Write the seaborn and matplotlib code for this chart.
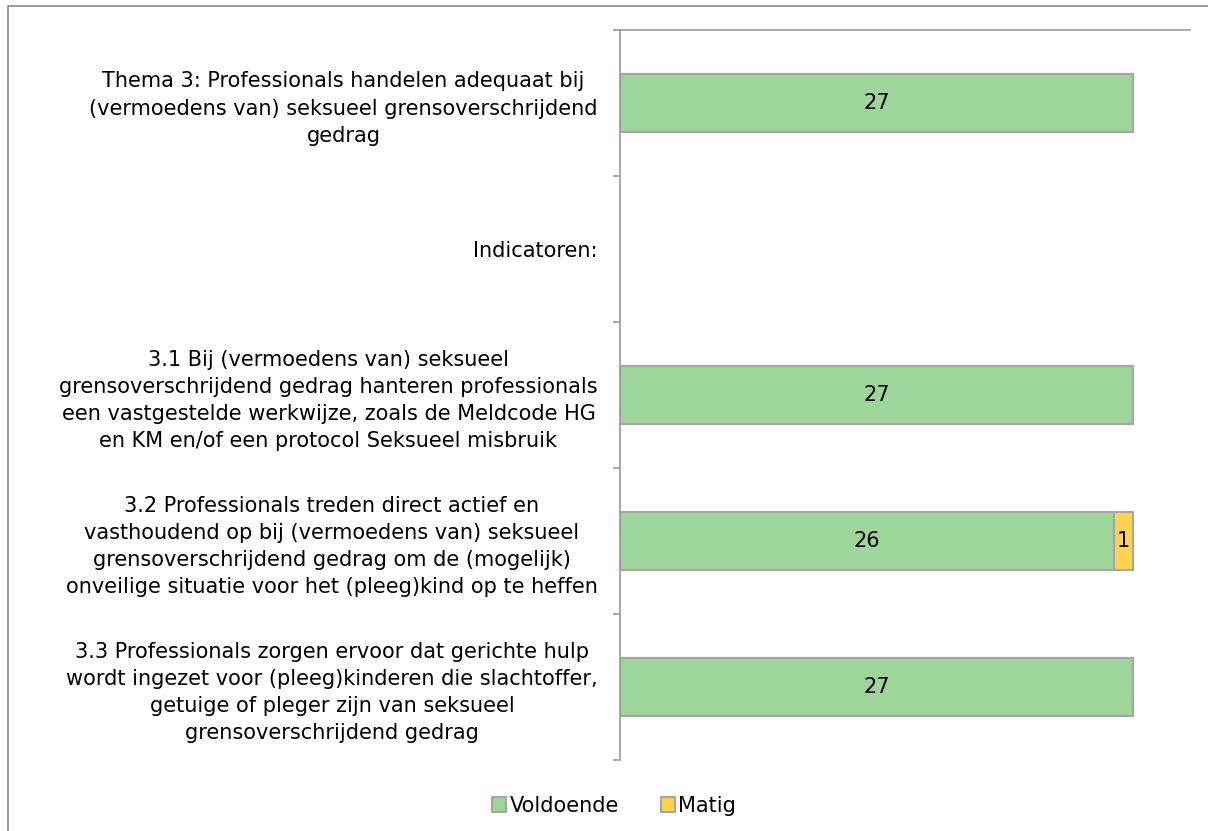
import matplotlib
matplotlib.use('Agg')
import matplotlib.pyplot as plt
import seaborn as sns
import pandas as pd
import numpy as np
from matplotlib.patches import Patch, Rectangle

# chart data
categories = [
    'Thema 3: Professionals handelen adequaat bij\n(vermoedens van) seksueel grensoverschrijdend\ngedrag',
    'Indicatoren:',
    '3.1 Bij (vermoedens van) seksueel\ngrensoverschrijdend gedrag hanteren professionals\neen vastgestelde werkwijze, zoals de Meldcode HG\nen KM en/of een protocol Seksueel misbruik',
    '3.2 Professionals treden direct actief en\nvasthoudend op bij (vermoedens van) seksueel\ngrensoverschrijdend gedrag om de (mogelijk)\nonveilige situatie voor het (pleeg)kind op te heffen',
    '3.3 Professionals zorgen ervoor dat gerichte hulp\nwordt ingezet voor (pleeg)kinderen die slachtoffer,\ngetuige of pleger zijn van seksueel\ngrensoverschrijdend gedrag',
]
voldoende = [27, np.nan, 27, 26, 27]
matig = [0, np.nan, 0, 1, 0]
series = ['Voldoende', 'Matig']

green = '#9ed59a'
yellow = '#ffd34f'
edge = '#a6a6a6'
fs = 15

df = pd.DataFrame({'cat': categories, 'Voldoende': voldoende, 'Matig': matig})
df['total'] = df['Voldoende'] + df['Matig']

sns.set_style('white')
plt.rcParams['font.family'] = ['DejaVu Sans']
plt.rcParams['text.color'] = 'black'
plt.rcParams['ytick.labelcolor'] = 'black'

fig = plt.figure(figsize=(12.08, 8.31), dpi=100)
ax = fig.add_axes([620/1208, 1-760/831, 570/1208, 730/831])

# stacked bars: total (Matig colour) under Voldoende
sns.barplot(data=df, y='cat', x='total', order=categories, orient='h',
            color=yellow, edgecolor=edge, linewidth=1.5, width=0.4,
            saturation=1, ax=ax, errorbar=None)
sns.barplot(data=df, y='cat', x='Voldoende', order=categories, orient='h',
            color=green, edgecolor=edge, linewidth=1.5, width=0.4,
            saturation=1, ax=ax, errorbar=None)

# value labels centred in each segment
for i, (v, m) in enumerate(zip(voldoende, matig)):
    if not np.isnan(v) and v > 0:
        ax.text(v / 2, i, f'{v:g}', ha='center', va='center', fontsize=fs, color='black')
    if not np.isnan(m) and m > 0:
        ax.text(v + m / 2, i, f'{m:g}', ha='center', va='center', fontsize=fs, color='black')

ax.set_xlim(0, 30)
ax.set_ylim(len(categories) - 0.5, -0.5)
ax.set_xlabel('')
ax.set_ylabel('')
ax.set_xticks([])

ax.set_yticks(range(len(categories)))
ax.set_yticklabels(categories, fontsize=fs, ha='right', multialignment='center',
                   linespacing=1.45, color='black')
ax.set_yticks(np.arange(-0.5, len(categories), 1), minor=True)
ax.tick_params(axis='y', which='major', length=0, pad=16)
ax.tick_params(axis='y', which='minor', length=5, width=1.2, color='#999999', direction='out', left=True)

for s in ['right', 'bottom']:
    ax.spines[s].set_visible(False)
ax.spines['left'].set_color('#999999')
ax.spines['left'].set_linewidth(1.2)
ax.spines['top'].set_color('#999999')
ax.spines['top'].set_linewidth(1.2)

handles = [Patch(facecolor=green, edgecolor=edge, linewidth=1.5),
           Patch(facecolor=yellow, edgecolor=edge, linewidth=1.5)]
fig.legend(handles, series, loc='center', bbox_to_anchor=(614/1208, 1-806/831),
           ncol=2, frameon=False, fontsize=fs, handlelength=0.7, handleheight=0.7,
           handletextpad=0.15, columnspacing=2.0)

# outer chart border
fig.patches.append(Rectangle((8/1208, -0.1), 2, 1.1 - 6/831, transform=fig.transFigure,
                             fill=False, edgecolor='#888888', linewidth=1.2))

fig.savefig('out.png', dpi=100)
